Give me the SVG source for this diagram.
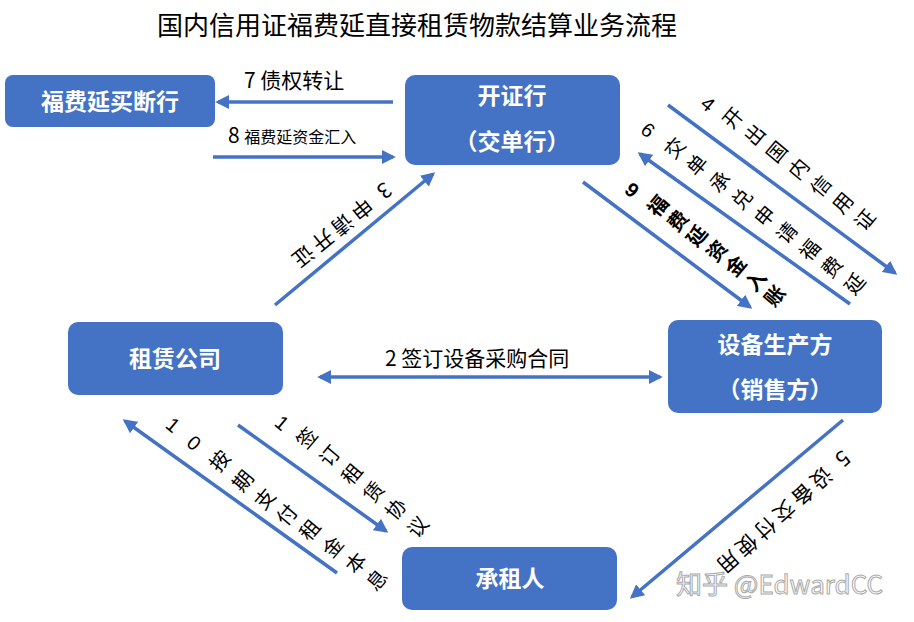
<svg xmlns="http://www.w3.org/2000/svg" width="914" height="622" viewBox="0 0 914 622">
<style>
.n{fill:#4472C4}
.nt{fill:#fff;font-family:"Noto Sans CJK SC",sans-serif;font-weight:bold;font-size:23px;text-anchor:middle}
.c{stroke:#4472C4;stroke-width:3.5;fill:none}
.l{font-family:"Noto Sans CJK SC",sans-serif;font-size:21px;fill:#000}
.v{font-family:"Liberation Sans","Noto Sans CJK SC",sans-serif;font-size:20px;fill:#000;text-anchor:middle;dominant-baseline:central}
.b{font-weight:bold}
</style>
<defs>
<marker id="ah" viewBox="0 0 10 10" refX="8" refY="5" markerWidth="4" markerHeight="4" orient="auto-start-reverse"><path d="M0,0L10,5L0,10z" fill="#4472C4"/></marker>
</defs>
<rect width="914" height="622" fill="#fff"/>
<text x="417" y="35" font-family="Noto Sans CJK SC,sans-serif" font-size="26" text-anchor="middle">国内信用证福费延直接租赁物款结算业务流程</text>

<g id="buyer"><rect class="n" x="5" y="75" width="210" height="52" rx="8"/><text class="nt" x="110" y="110">福费延买断行</text></g>
<g id="bank"><rect class="n" x="405" y="75" width="215" height="90" rx="10"/><text class="nt" x="512" y="104">开证行</text><text class="nt" x="512" y="150">（交单行）</text></g>
<g id="lessor"><rect class="n" x="68" y="322" width="215" height="73" rx="10"/><text class="nt" x="175" y="367">租赁公司</text></g>
<g id="maker"><rect class="n" x="668" y="320" width="214" height="93" rx="10"/><text class="nt" x="775" y="353">设备生产方</text><text class="nt" x="775" y="398">（销售方）</text></g>
<g id="lessee"><rect class="n" x="402" y="547" width="215" height="63" rx="10"/><text class="nt" x="510" y="587">承租人</text></g>

<g id="connectors">
<line class="c" x1="393" y1="102" x2="218" y2="102" marker-end="url(#ah)"/>
<line class="c" x1="213" y1="157" x2="393" y2="157" marker-end="url(#ah)"/>
<line class="c" x1="320" y1="377" x2="660" y2="377" marker-start="url(#ah)" marker-end="url(#ah)"/>
<line class="c" x1="275" y1="305" x2="433" y2="174" marker-end="url(#ah)"/>
<line class="c" x1="668" y1="105" x2="895" y2="273" marker-end="url(#ah)"/>
<line class="c" x1="850" y1="304" x2="640" y2="154" marker-end="url(#ah)"/>
<line class="c" x1="583" y1="182" x2="750" y2="307" marker-end="url(#ah)"/>
<line class="c" x1="843" y1="420" x2="632" y2="597" marker-end="url(#ah)"/>
<line class="c" x1="238" y1="425" x2="386" y2="531" marker-end="url(#ah)"/>
<line class="c" x1="337" y1="573" x2="125" y2="421" marker-end="url(#ah)"/>
</g>

<g id="labels">
<text class="l" x="244" y="88" font-size="22">7 债权转让</text>
<text class="l" x="228" y="143">8 <tspan font-size="16">福费延资金汇入</tspan></text>
<text class="l" x="385" y="366" font-size="22">2 签订设备采购合同</text>
<text class="l" transform="translate(384,181) rotate(141)" font-size="22" letter-spacing="4">3 申请开证</text>
<text class="l" transform="translate(842,449) rotate(138)" font-size="23" letter-spacing="4">5 设备交付使用</text>

<text class="v" transform="translate(708,104) rotate(40)">4</text>
<text class="v" transform="translate(733,118) rotate(-50)">开</text>
<text class="v" transform="translate(755,135) rotate(-50)">出</text>
<text class="v" transform="translate(777,152) rotate(-50)">国</text>
<text class="v" transform="translate(799,169) rotate(-50)">内</text>
<text class="v" transform="translate(821,186) rotate(-50)">信</text>
<text class="v" transform="translate(843,203) rotate(-50)">用</text>
<text class="v" transform="translate(865,220) rotate(-50)">证</text>

<text class="v" transform="translate(648,130) rotate(40)">6</text>
<text class="v" transform="translate(675,148) rotate(-50)">交</text>
<text class="v" transform="translate(697,165) rotate(-50)">单</text>
<text class="v" transform="translate(720,182) rotate(-50)">承</text>
<text class="v" transform="translate(742,199) rotate(-50)">兑</text>
<text class="v" transform="translate(765,216) rotate(-50)">申</text>
<text class="v" transform="translate(787,233) rotate(-50)">请</text>
<text class="v" transform="translate(810,250) rotate(-50)">福</text>
<text class="v" transform="translate(832,267) rotate(-50)">费</text>
<text class="v" transform="translate(855,284) rotate(-50)">延</text>

<g class="b">
<text class="v" transform="translate(632,190) rotate(40)">9</text>
<text class="v" transform="translate(658,206) rotate(-50)">福</text>
<text class="v" transform="translate(678,221) rotate(-50)">费</text>
<text class="v" transform="translate(697,236) rotate(-50)">延</text>
<text class="v" transform="translate(717,251) rotate(-50)">资</text>
<text class="v" transform="translate(736,266) rotate(-50)">金</text>
<text class="v" transform="translate(756,281) rotate(-50)">入</text>
<text class="v" transform="translate(775,296) rotate(-50)">账</text>
</g>

<text class="v" transform="translate(282,423) rotate(40)">1</text>
<text class="v" transform="translate(307,438) rotate(-50)">签</text>
<text class="v" transform="translate(330,456) rotate(-50)">订</text>
<text class="v" transform="translate(352,474) rotate(-50)">租</text>
<text class="v" transform="translate(374,492) rotate(-50)">赁</text>
<text class="v" transform="translate(396,509) rotate(-50)">协</text>
<text class="v" transform="translate(418,527) rotate(-50)">议</text>

<text class="v" transform="translate(173,425) rotate(40)">1</text>
<text class="v" transform="translate(194,443) rotate(40)">0</text>
<text class="v" transform="translate(220,461) rotate(-50)">按</text>
<text class="v" transform="translate(243,481) rotate(-50)">期</text>
<text class="v" transform="translate(265,499) rotate(-50)">支</text>
<text class="v" transform="translate(287,515) rotate(-50)">付</text>
<text class="v" transform="translate(310,530) rotate(-50)">租</text>
<text class="v" transform="translate(333,547) rotate(-50)">金</text>
<text class="v" transform="translate(356,563) rotate(-50)">本</text>
<text class="v" transform="translate(377,580) rotate(-50)">息</text>
</g>

<text x="676" y="594" font-family="Noto Sans CJK SC,sans-serif" font-size="26" fill="#fff" stroke="#aaa" stroke-width="1">知乎 @EdwardCC</text>
</svg>
